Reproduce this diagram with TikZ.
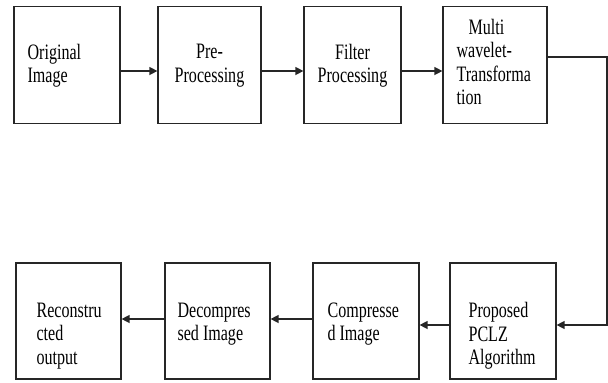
\documentclass[tikz,border=0pt]{standalone}
\usepackage{fontspec}
\setmainfont{Liberation Serif}[FakeStretch=0.73]
\usetikzlibrary{positioning,arrows.meta}
\tikzset{
  blockbox/.style={draw=black!85, line width=1.2pt, minimum height=117pt, inner sep=0pt},
  blocktext/.style={inner sep=0pt, align=left, font=\fontsize{22}{23.5}\selectfont},
  flowline/.style={-{Triangle[length=8pt,width=8pt]}, line width=1.3pt, draw=black!85}
}
\begin{document}
\begin{tikzpicture}[x=1pt, y=-1pt]
  \useasboundingbox (0,0) rectangle (608,383);
  % top row
  \node[blockbox, minimum width=106pt] (orig) at (67,65) {};
  \node[blockbox, minimum width=103pt] (pre) at (209.5,65) {};
  \node[blockbox, minimum width=97pt] (filt) at (352.5,65) {};
  \node[blockbox, minimum width=104pt] (mwt) at (495,65) {};
  \node[blocktext, below right=38pt and 14pt of orig.north west] (origtxt) {Original\\Image};
  \node[blocktext, align=center, below=38pt of pre.north] (pretxt) {Pre-\\Processing};
  \node[blocktext, align=center, below=38pt of filt.north] (filttxt) {Filter\\Processing};
  \node[blocktext, below right=13pt and 14pt of mwt.north west] (mwttxt) {\hspace*{12pt}Multi\\wavelet-\\Transforma\\tion};
  % bottom row
  \node[blockbox, minimum width=105pt, minimum height=116pt] (recon) at (68.5,321) {};
  \node[blockbox, minimum width=105pt, minimum height=116pt] (decomp) at (217.5,321) {};
  \node[blockbox, minimum width=106pt, minimum height=116pt] (comp) at (366,321) {};
  \node[blockbox, minimum width=106pt, minimum height=116pt] (prop) at (503,321) {};
  \node[blocktext, below right=40pt and 21pt of recon.north west] (recontxt) {Reconstru\\cted\\output};
  \node[blocktext, below right=40pt and 13pt of decomp.north west] (decomptxt) {Decompres\\sed Image};
  \node[blocktext, below right=40pt and 15pt of comp.north west] (comptxt) {Compresse\\d Image};
  \node[blocktext, below right=40pt and 19pt of prop.north west] (proptxt) {Proposed\\PCLZ\\Algorithm};
  \coordinate (bend) at (607,190);
  % connectors
  \draw[flowline] ([yshift=-6pt]orig.east) -- ([yshift=-6pt]pre.west);
  \draw[flowline] ([yshift=-6pt]pre.east) -- ([yshift=-6pt]filt.west);
  \draw[flowline] ([yshift=-6pt]filt.east) -- ([yshift=-6pt]mwt.west);
  \draw[flowline] ([yshift=8pt]mwt.east) -| (bend) |- ([yshift=-4pt]prop.east);
  \draw[flowline] ([yshift=-4pt]prop.west) -- ([yshift=-4pt]comp.east);
  \draw[flowline] ([yshift=2pt]comp.west) -- ([yshift=2pt]decomp.east);
  \draw[flowline] ([yshift=2pt]decomp.west) -- ([yshift=2pt]recon.east);
\end{tikzpicture}
\end{document}
